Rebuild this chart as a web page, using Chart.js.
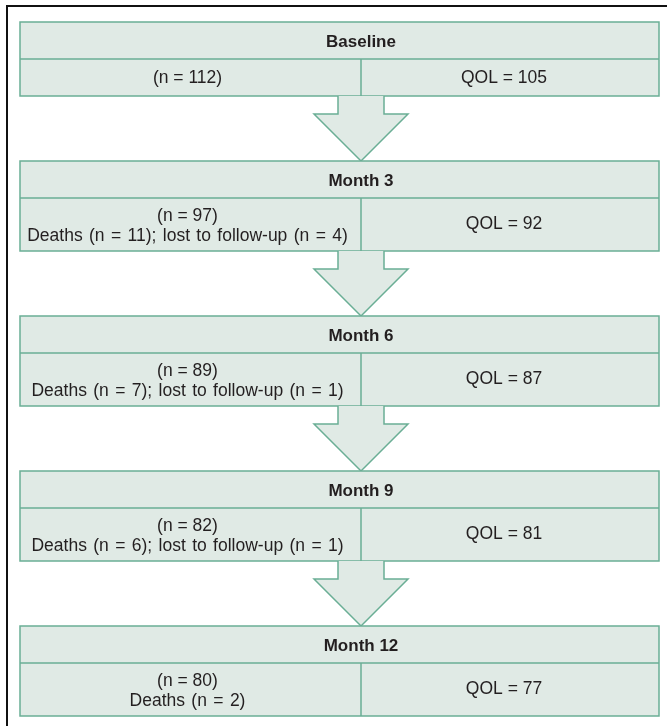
<!DOCTYPE html>
<html>
<head>
<meta charset="utf-8">
<script src="https://cdn.jsdelivr.net/npm/chart.js@4/dist/chart.umd.min.js"></script>
<style>
  html, body { margin: 0; padding: 0; background: #ffffff; }
  #wrap { width: 667px; height: 726px; position: relative; }
</style>
</head>
<body>
<div id="wrap"><canvas id="c"></canvas></div>
<script>
// ---- data ----
const stages = ['Baseline', 'Month 3', 'Month 6', 'Month 9', 'Month 12'];
const nValues = [112, 97, 89, 82, 80];
const deaths = [null, 11, 7, 6, 2];
const lostToFollowUp = [null, 4, 1, 1, null];
const qolValues = [105, 92, 87, 81, 77];

// ---- styles ----
const FILL = '#e0eae5';
const EDGE = '#6aae95';
const TEXT = '#231f20';
const FONT = '"Liberation Sans", Arial, Helvetica, sans-serif';

function leftLines(i) {
  const lines = ['(n = ' + nValues[i] + ')'];
  const parts = [];
  if (deaths[i] != null) parts.push('Deaths (n = ' + deaths[i] + ')');
  if (lostToFollowUp[i] != null) parts.push('lost to follow-up (n = ' + lostToFollowUp[i] + ')');
  if (parts.length) lines.push(parts.join('; '));
  return lines;
}

const flowPlugin = {
  id: 'flow',
  beforeDraw(chart) {
    const ctx = chart.ctx;
    ctx.save();
    ctx.strokeStyle = '#111111';
    ctx.lineWidth = 2;
    ctx.beginPath();
    ctx.moveTo(7, chart.height);
    ctx.lineTo(7, 6);
    ctx.lineTo(chart.width, 6);
    ctx.stroke();
    ctx.restore();
  },
  afterDraw(chart) {
    const ctx = chart.ctx;
    const a = chart.chartArea;
    const left = a.left, right = a.right;
    const divX = left + Math.round((right - left) * 0.5336);
    const headH = 37, subH1 = 37, subH2 = 53, gap = 65;
    const shaftHalf = 23, headHalf = 47, shaftLen = 18;
    let y = a.top;
    ctx.save();
    ctx.lineWidth = 1.5;
    ctx.lineJoin = 'miter';
    stages.forEach((s, i) => {
      const lines = leftLines(i);
      const subH = lines.length > 1 ? subH2 : subH1;
      // arrow from previous box
      if (i > 0) {
        const top = y - gap, tip = y;
        ctx.beginPath();
        ctx.moveTo(divX - shaftHalf, top);
        ctx.lineTo(divX - shaftHalf, top + shaftLen);
        ctx.lineTo(divX - headHalf, top + shaftLen);
        ctx.lineTo(divX, tip);
        ctx.lineTo(divX + headHalf, top + shaftLen);
        ctx.lineTo(divX + shaftHalf, top + shaftLen);
        ctx.lineTo(divX + shaftHalf, top);
        ctx.fillStyle = FILL;
        ctx.fill();
        ctx.strokeStyle = EDGE;
        ctx.stroke();
      }
      // box
      ctx.fillStyle = FILL;
      ctx.fillRect(left, y, right - left, headH + subH);
      ctx.strokeStyle = EDGE;
      ctx.strokeRect(left, y, right - left, headH + subH);
      ctx.beginPath();
      ctx.moveTo(left, y + headH);
      ctx.lineTo(right, y + headH);
      ctx.moveTo(divX, y + headH);
      ctx.lineTo(divX, y + headH + subH);
      ctx.stroke();
      // header text
      ctx.fillStyle = TEXT;
      ctx.textAlign = 'center';
      ctx.textBaseline = 'middle';
      ctx.font = 'bold 17px ' + FONT;
      ctx.fillText(s, divX, y + headH / 2 + 1.5);
      // left cell
      ctx.font = '17.5px ' + FONT;
      const lc = (left + divX) / 2 - 3;
      const mid = y + headH + subH / 2;
      if (lines.length === 1) {
        ctx.fillText(lines[0], lc, mid + 0.5);
      } else {
        ctx.fillText(lines[0], lc, mid - 8);
        ctx.wordSpacing = '1.5px';
        ctx.fillText(lines[1], lc, mid + 12);
        ctx.wordSpacing = '0px';
      }
      // right cell
      ctx.fillText('QOL = ' + qolValues[i], (divX + right) / 2 - 6, lines.length > 1 ? mid : mid + 0.5);
      y += headH + subH + gap;
    });
    ctx.restore();
  }
};

new Chart(document.getElementById('c'), {
  type: 'scatter',
  data: { datasets: [] },
  options: {
    responsive: true,
    maintainAspectRatio: false,
    animation: false,
    layout: { padding: { left: 20, right: 8, top: 22, bottom: 10 } },
    plugins: { legend: { display: false }, tooltip: { enabled: false } },
    scales: {
      x: { display: false, min: 0, max: 1 },
      y: { display: false, min: 0, max: 1 }
    }
  },
  plugins: [flowPlugin]
});
</script>
</body>
</html>
